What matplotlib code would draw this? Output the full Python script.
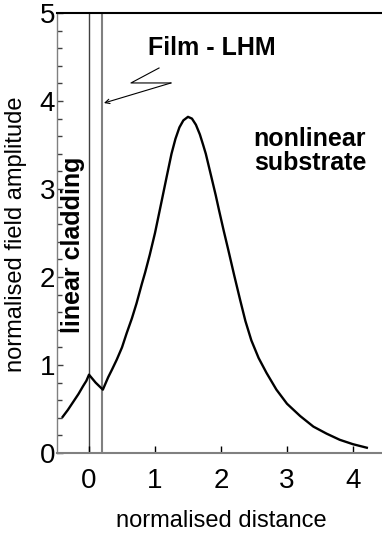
import numpy as np
import matplotlib
matplotlib.use("Agg")
import matplotlib.pyplot as plt
from matplotlib.ticker import MultipleLocator

plt.rcParams['font.family'] = ['Liberation Sans', 'DejaVu Sans']

# --- field profile ---
dist = [-0.40, -0.32, -0.24, -0.16, -0.09, -0.04, 0.00, 0.10, 0.21,
        0.25, 0.29, 0.35, 0.42, 0.50, 0.57, 0.65, 0.72, 0.80, 0.85, 0.92,
        1.00, 1.10, 1.18, 1.25, 1.31, 1.37, 1.43, 1.50, 1.56, 1.62, 1.68,
        1.73, 1.77, 1.85, 1.92, 1.97, 2.04, 2.11, 2.20, 2.29, 2.37, 2.46,
        2.57, 2.69, 2.84, 3.00, 3.20, 3.40, 3.60, 3.80, 4.00, 4.21]
amp = [0.41, 0.49, 0.58, 0.67, 0.76, 0.82, 0.89, 0.80, 0.72,
       0.79, 0.86, 0.95, 1.06, 1.20, 1.36, 1.53, 1.70, 1.92, 2.05, 2.25,
       2.50, 2.86, 3.15, 3.40, 3.57, 3.70, 3.78, 3.82, 3.80, 3.73, 3.62,
       3.50, 3.40, 3.15, 2.93, 2.76, 2.53, 2.31, 2.02, 1.74, 1.50, 1.28,
       1.08, 0.91, 0.72, 0.56, 0.42, 0.30, 0.22, 0.15, 0.10, 0.06]

# film boundaries
x_left = 0.0
x_right = 0.2

# zigzag pointer to the film
zig_x = [1.061, 0.636, 1.242]
zig_y = [4.375, 4.205, 4.205]
arrow_tip = (0.227, 3.977)

xticks = [0, 1, 2, 3, 4]
yticks = [0, 1, 2, 3, 4, 5]

fig = plt.figure(figsize=(3.82, 5.36), dpi=100)
ax = fig.add_axes([57/382, 1 - 453/536, (382 - 57)/382, 440/536])

ax.axvline(x_left, color='#404040', lw=1.0, zorder=1)
ax.axvline(x_right, color='#808080', lw=1.5, zorder=1)
ax.plot(dist, amp, color='black', lw=1.7, zorder=3,
        solid_joinstyle='round')

# pointer
ax.plot(zig_x, zig_y, color='black', lw=0.8)
ax.annotate('', xy=arrow_tip, xytext=(zig_x[-1], zig_y[-1]),
            arrowprops=dict(arrowstyle='->', color='black', lw=0.8,
                            shrinkA=0, shrinkB=0, mutation_scale=8))

ax.text(1.856, 4.523, 'Film - LHM', fontsize=18, fontweight='bold',
        ha='center', va='baseline')
ax.text(3.348, 3.489, 'nonlinear', fontsize=18, fontweight='bold',
        ha='center', va='baseline')
ax.text(3.348, 3.216, 'substrate', fontsize=18, fontweight='bold',
        ha='center', va='baseline')
ax.text(-0.24, 2.37, 'linear cladding', fontsize=18, fontweight='bold',
        rotation=90, ha='center', va='center')

ax.set_xlim(-0.485, 4.44)
ax.set_ylim(0, 5)
ax.set_xticks(xticks)
ax.set_yticks(yticks)
ax.yaxis.set_minor_locator(MultipleLocator(0.2))

ax.tick_params(axis='x', direction='in', length=5, width=1, color='black',
               labelsize=20, pad=11)
ax.tick_params(axis='y', which='major', direction='in', length=4, width=1,
               color='#404040', labelsize=20, pad=1.5)
ax.tick_params(axis='y', which='minor', direction='in', length=3.5, width=1,
               color='#404040')

ax.spines['right'].set_visible(False)
ax.spines['top'].set_color('black')
ax.spines['top'].set_linewidth(1.5)
ax.spines['left'].set_color('#808080')
ax.spines['left'].set_linewidth(1.0)
ax.spines['bottom'].set_color('#808080')
ax.spines['bottom'].set_linewidth(1.5)

ax.set_xlabel('normalised distance', fontsize=17)
ax.set_ylabel('normalised field amplitude', fontsize=17)
ax.xaxis.set_label_coords(0.505, -0.1295)
ax.yaxis.set_label_coords(-0.092, 0.498)

fig.savefig('out.png', dpi=100)
